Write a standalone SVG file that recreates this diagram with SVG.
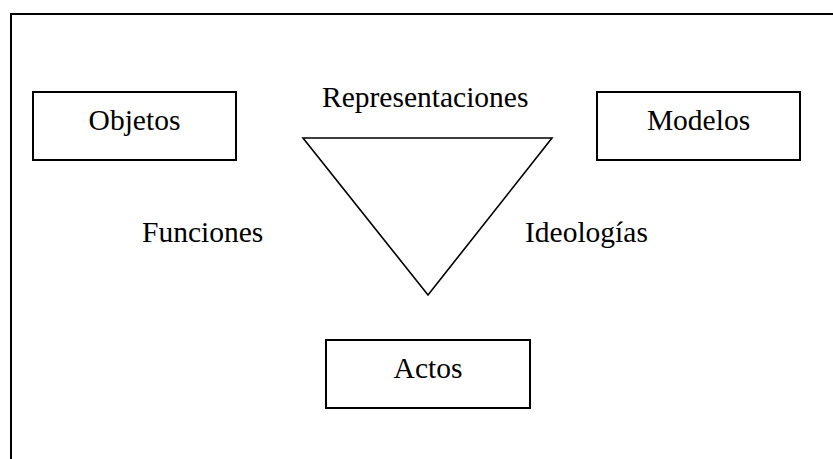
<svg xmlns="http://www.w3.org/2000/svg" width="833" height="459" viewBox="0 0 833 459">
<style>
.box{fill:#fff;stroke:#000;stroke-width:2}
.t{font-family:"Liberation Serif","Times New Roman",serif;font-size:29.5px;fill:#000}
.c{text-anchor:middle}
</style>
<rect width="833" height="459" fill="#fff"/>
<path d="M11,459 V14 H833" fill="none" stroke="#000" stroke-width="2"/>
<g id="connectors">
<polygon points="303,138 552,138 428,295" fill="none" stroke="#000" stroke-width="1.6"/>
</g>
<g id="objetos">
<rect class="box" x="33" y="92" width="203" height="68"/>
<text class="t c" x="134.5" y="130">Objetos</text>
</g>
<g id="modelos">
<rect class="box" x="597" y="92" width="203" height="68"/>
<text class="t c" x="698.5" y="130">Modelos</text>
</g>
<g id="actos">
<rect class="box" x="326" y="340" width="204" height="68"/>
<text class="t c" x="428" y="378">Actos</text>
</g>
<g id="representaciones">
<text class="t" x="322" y="107">Representaciones</text>
</g>
<g id="funciones">
<text class="t" x="142" y="242">Funciones</text>
</g>
<g id="ideologias">
<text class="t" x="525" y="242">Ideologías</text>
</g>
</svg>
